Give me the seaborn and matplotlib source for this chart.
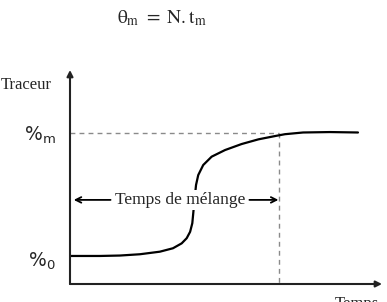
import matplotlib
matplotlib.use("Agg")
import matplotlib.pyplot as plt
import seaborn as sns
import pandas as pd

sns.set_style("white")
plt.rcParams['mathtext.fontset'] = 'stix'

# Curve (time, tracer), axis units 0-100
temps = [0.3, 9.6, 16.0, 22.4, 28.8, 33.0, 35.8, 37.4, 38.5, 39.2, 39.5, 39.9, 40.4,
         41.1, 42.7, 45.4, 49.7, 55.0, 60.4, 66.3, 68.9, 74.7, 83.3, 92.3]
traceur = [13.1, 13.1, 13.3, 13.9, 15.1, 16.7, 19.0, 21.4, 24.4, 28.4, 33.0, 39.3, 46.3,
           50.9, 55.6, 59.5, 62.6, 65.4, 67.6, 69.3, 70.0, 70.8, 71.0, 70.8]
niveau_m = 70.4
t_m = 67.0
y_fleche = 39.3
df = pd.DataFrame({"Temps": temps, "Traceur": traceur})

fig = plt.figure(figsize=(3.87, 3.02), dpi=100)
ax = fig.add_axes([70/387, 18/302, 312/387, 214/302])
ax.set_xlim(0, 100)
ax.set_ylim(0, 100)
ax.axis('off')

# dashed guides
ax.plot([0, t_m], [niveau_m, niveau_m], color='#8a8a8a', lw=1.0, ls=(0, (3.5, 3)))
ax.plot([t_m, t_m], [niveau_m, 0], color='#8a8a8a', lw=1.0, ls=(0, (3.5, 3)))

sns.lineplot(data=df, x="Temps", y="Traceur", sort=False, color='black', lw=1.6, ax=ax,
             solid_joinstyle='round', solid_capstyle='round')
ax.set_xlabel("")
ax.set_ylabel("")

# axes arrows
ax.annotate("", xy=(100, 0), xytext=(0, 0),
            arrowprops=dict(arrowstyle='-|>', color='#222222', lw=1.5, mutation_scale=9,
                            shrinkA=0, shrinkB=0), annotation_clip=False)
ax.annotate("", xy=(0, 100), xytext=(0, 0),
            arrowprops=dict(arrowstyle='-|>', color='#222222', lw=1.5, mutation_scale=9,
                            shrinkA=0, shrinkB=0), annotation_clip=False)

serif = ['Liberation Serif', 'DejaVu Serif']
# mixing time label with arrows
ax.text(35.4, y_fleche, "Temps de mélange", family=serif, fontsize=12.5,
        ha='center', va='center', zorder=5,
        bbox=dict(facecolor='white', edgecolor='none', pad=1.5))
ax.annotate("", xy=(1.2, y_fleche), xytext=(13.0, y_fleche),
            arrowprops=dict(arrowstyle='->', color='black', lw=1.3, mutation_scale=10,
                            shrinkA=0, shrinkB=0))
ax.annotate("", xy=(66.8, y_fleche), xytext=(57.5, y_fleche),
            arrowprops=dict(arrowstyle='->', color='black', lw=1.3, mutation_scale=10,
                            shrinkA=0, shrinkB=0))

ax.text(-5.8, 93, "Traceur", family=serif, fontsize=12, ha='right', va='center')
ax.text(85, -5.5, "Temps", family=serif, fontsize=12, ha='left', va='top')
ax.text(-4.5, niveau_m - 1.0, r"$\%_{\mathrm{m}}$", fontsize=13.5, ha='right', va='center',
        math_fontfamily='dejavusans')
ax.text(-4.5, 10.5, r"$\%_{0}$", fontsize=13.5, ha='right', va='center',
        math_fontfamily='dejavusans')

fig.text(162/387, 1 - 18/302, r"$\mathrm{\theta_m}\ =\ \mathrm{N.t_m}$",
         fontsize=14, ha='center', va='center')

fig.savefig("out.png", dpi=100)
